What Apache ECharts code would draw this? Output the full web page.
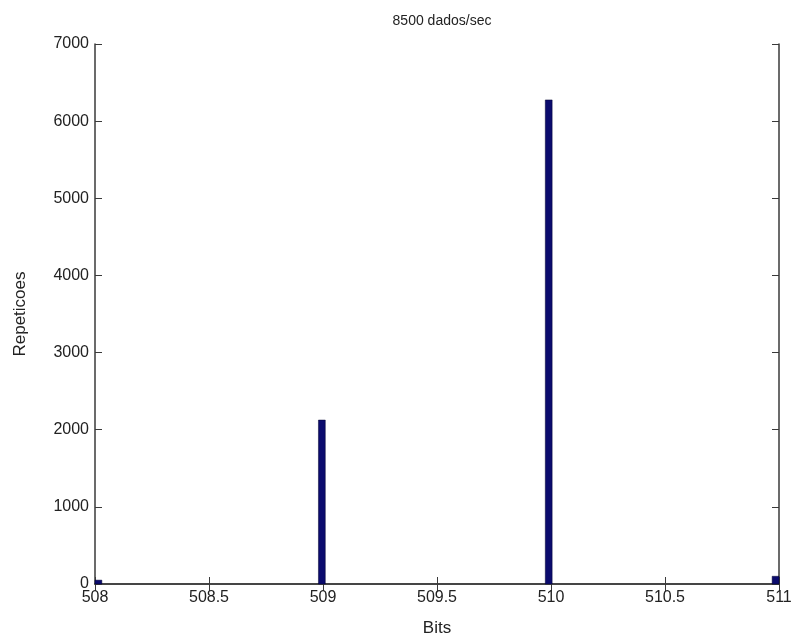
<!DOCTYPE html>
<html>
<head>
<meta charset="utf-8">
<script src="https://cdn.jsdelivr.net/npm/echarts@6/dist/echarts.min.js"></script>
<style>
  html, body { margin: 0; padding: 0; background: #fff; }
  #chart { width: 796px; height: 639px; }
</style>
</head>
<body>
<div id="chart"></div>
<script>
// histogram bins (centres, in Bits) and repetition counts
var binCenters = [508.015, 508.995, 509.99, 510.985];
var counts = [50, 2125, 6275, 100];
var binWidth = 0.03;
var titleText = '8500 dados/sec';

var lineColor = '#3a3a3a';
var font = 'Liberation Sans, Arial, sans-serif';

var data = binCenters.map(function (b, i) { return [b, counts[i]]; });

// bars spanning the bin, clipped to the axes box
function renderBar(params, api) {
  var x = api.value(0);
  var left = api.coord([x - binWidth / 2, api.value(1)]);
  var right = api.coord([x + binWidth / 2, 0]);
  var cs = params.coordSys;
  var shape = echarts.graphic.clipRectByRect(
    { x: left[0], y: left[1], width: right[0] - left[0], height: right[1] - left[1] },
    { x: cs.x, y: cs.y, width: cs.width, height: cs.height }
  );
  return shape && {
    type: 'rect',
    shape: shape,
    style: { fill: '#0b0b6e', stroke: '#000030', lineWidth: 0.5 }
  };
}

var chart = echarts.init(document.getElementById('chart'));
var option = {
  backgroundColor: '#ffffff',
  animation: false,
  title: {
    text: titleText,
    left: 437,
    top: 9,
    textAlign: 'center',
    textStyle: { fontFamily: font, fontSize: 14, fontWeight: 'normal', color: '#222' }
  },
  grid: { left: 95, right: 17, top: 44, bottom: 55, outerBoundsMode: 'none' },
  xAxis: [
    {
      type: 'value',
      min: 508, max: 511, interval: 0.5,
      name: 'Bits', nameLocation: 'middle', nameGap: 36,
      nameTextStyle: { fontFamily: font, fontSize: 17, color: '#222' },
      axisLine: { lineStyle: { color: lineColor, width: 1.5 } },
      axisTick: { inside: true, length: 7, lineStyle: { color: lineColor } },
      axisLabel: { fontFamily: font, fontSize: 16, color: '#222', margin: 6 },
      splitLine: { show: false }
    },
    {
      type: 'value', position: 'top',
      min: 508, max: 511, interval: 0.5,
      axisLine: { show: true, lineStyle: { color: lineColor, width: 1.5 } },
      axisTick: { inside: true, length: 7, lineStyle: { color: lineColor } },
      axisLabel: { show: false },
      splitLine: { show: false }
    }
  ],
  yAxis: [
    {
      type: 'value',
      min: 0, max: 7000, interval: 1000,
      name: 'Repeticoes', nameLocation: 'middle', nameGap: 66,
      nameTextStyle: { fontFamily: font, fontSize: 17, color: '#222' },
      axisLine: { show: true, lineStyle: { color: lineColor, width: 1.5 } },
      axisTick: { show: true, inside: true, length: 7, lineStyle: { color: lineColor } },
      axisLabel: {
        fontFamily: font, fontSize: 16, color: '#222', margin: 6,
        formatter: function (v) { return String(v); }
      },
      splitLine: { show: false }
    },
    {
      type: 'value', position: 'right',
      min: 0, max: 7000, interval: 1000,
      axisLine: { show: true, lineStyle: { color: lineColor, width: 1.5 } },
      axisTick: { show: true, inside: true, length: 7, lineStyle: { color: lineColor } },
      axisLabel: { show: false },
      splitLine: { show: false }
    }
  ],
  series: [
    {
      type: 'custom',
      renderItem: renderBar,
      encode: { x: 0, y: 1 },
      data: data
    }
  ]
};
chart.setOption(option);
</script>
</body>
</html>
